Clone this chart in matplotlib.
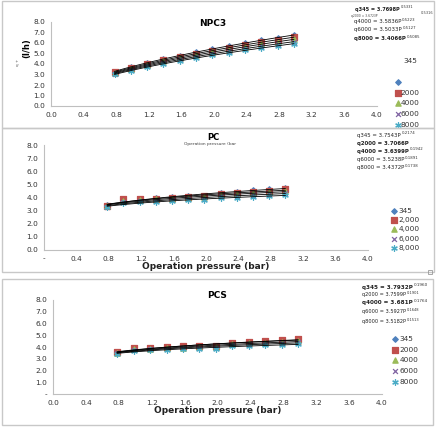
import matplotlib
matplotlib.use("Agg")
import matplotlib.pyplot as plt
from matplotlib.patches import Rectangle
import numpy as np

W, H = 436, 429

# operation pressure (bar)
pressure = [0.78, 0.98, 1.18, 1.38, 1.58, 1.78, 1.98, 2.18, 2.38, 2.58, 2.78, 2.98]

# flux (l/h)
npc3_345 = [3.28, 3.75, 4.10, 4.50, 4.80, 5.15, 5.45, 5.70, 6.00, 6.25, 6.52, 6.75]
npc3_2000 = [3.20, 3.65, 4.02, 4.35, 4.70, 4.98, 5.28, 5.55, 5.82, 6.05, 6.32, 6.55]
npc3_4000 = [3.15, 3.55, 3.90, 4.25, 4.55, 4.85, 5.12, 5.38, 5.65, 5.88, 6.12, 6.35]
npc3_6000 = [3.08, 3.45, 3.82, 4.12, 4.43, 4.70, 4.98, 5.22, 5.45, 5.70, 5.92, 6.12]
npc3_8000 = [3.00, 3.38, 3.70, 4.02, 4.30, 4.58, 4.82, 5.05, 5.30, 5.52, 5.72, 5.95]

pc_345 = [3.40, 3.75, 3.85, 3.95, 4.05, 4.10, 4.15, 4.35, 4.45, 4.55, 4.65, 4.75]
pc_2000 = [3.38, 3.85, 3.85, 3.90, 3.95, 4.02, 4.08, 4.30, 4.35, 4.45, 4.52, 4.62]
pc_4000 = [3.35, 3.70, 3.78, 3.85, 3.92, 3.98, 4.02, 4.18, 4.25, 4.33, 4.40, 4.48]
pc_6000 = [3.30, 3.62, 3.70, 3.75, 3.82, 3.88, 3.92, 4.08, 4.12, 4.20, 4.26, 4.33]
pc_8000 = [3.25, 3.55, 3.62, 3.68, 3.74, 3.78, 3.82, 3.96, 4.00, 4.06, 4.12, 4.18]

pcs_345 = [3.52, 3.85, 3.90, 3.98, 4.05, 4.08, 4.12, 4.35, 4.45, 4.52, 4.60, 4.68]
pcs_2000 = [3.55, 3.90, 3.92, 3.98, 4.05, 4.05, 4.10, 4.35, 4.45, 4.50, 4.58, 4.65]
pcs_4000 = [3.50, 3.80, 3.85, 3.90, 3.95, 3.98, 4.02, 4.25, 4.32, 4.38, 4.45, 4.52]
pcs_6000 = [3.45, 3.75, 3.80, 3.85, 3.88, 3.90, 3.95, 4.15, 4.22, 4.28, 4.32, 4.40]
pcs_8000 = [3.40, 3.70, 3.72, 3.78, 3.80, 3.82, 3.85, 4.05, 4.10, 4.15, 4.20, 4.28]

x_ticks = [0.0, 0.4, 0.8, 1.2, 1.6, 2.0, 2.4, 2.8, 3.2, 3.6, 4.0]
y_ticks = [0, 1, 2, 3, 4, 5, 6, 7, 8]

# trendline equations shown on the chart: (base, exponent)
eq_npc3 = [("q345 = 3.7698P", "0.5331"), ("q4000 = 3.5836P", "0.5223"),
           ("q6000 = 3.5033P", "0.5127"), ("q8000 = 3.4066P", "0.5085")]
eq_pc = [("q345 = 3.7543P", "0.2174"), ("q2000 = 3.7066P", ""), ("q4000 = 3.6399P", "0.1942"),
         ("q6000 = 3.5238P", "0.1891"), ("q8000 = 3.4372P", "0.1738")]
eq_pcs = [("q345 = 3.7932P", "0.1960"), ("q2000 = 3.7599P", "0.1901"), ("q4000 = 3.681P", "0.1764"),
          ("q6000 = 3.5927P", "0.1648"), ("q8000 = 3.5182P", "0.1513")]

colors = ['#4F81BD', '#C0504D', '#9BBB59', '#8064A2', '#4BACC6']
markers = ['D', 's', '^', 'x', (6, 2, 0)]
msizes = [2.8, 4.0, 3.8, 3.5, 4.0]


def fx(x):
    return x / W


def fy(y):
    return 1 - y / H


def eq_text(ax, x, y, eq, size, bold=False):
    base, ex = eq
    t = fig.text(fx(x), fy(y), base, fontsize=size, fontweight='bold' if bold else 'normal',
                 va='center', color='#222222')
    if ex:
        ax.annotate(ex, xy=(1.0, 0.85), xycoords=t, xytext=(0.4, 0), textcoords='offset points',
                    fontsize=size * 0.72, va='center', ha='left', color='#333333',
                    annotation_clip=False)
    return t


def panel(rect, series, xlabels, ylabels, xlabel):
    l, t, r, b = rect
    ax = fig.add_axes([fx(l), fy(b), fx(r - l), (b - t) / H])
    handles = []
    for i, ys in enumerate(series):
        h = ax.scatter(pressure, ys, marker=markers[i], s=msizes[i] ** 2,
                       color=colors[i], linewidths=0.9, zorder=3)
        handles.append(h)
    # power trendlines (fitted like Excel)
    xs = np.linspace(pressure[0], pressure[-1], 50)
    for ys in series:
        k, c = np.polyfit(np.log(pressure), np.log(ys), 1)
        ax.plot(xs, np.exp(c) * xs ** k, color='black', lw=0.6, zorder=4)
    ax.set_xlim(0, 4.0)
    ax.set_ylim(0, 8.0)
    ax.set_xticks(x_ticks)
    ax.set_xticklabels(xlabels)
    ax.set_yticks(y_ticks)
    ax.set_yticklabels(ylabels)
    ax.tick_params(length=0, labelsize=5.3, colors='#333333', pad=4)
    for s in ['top', 'right']:
        ax.spines[s].set_visible(False)
    for s in ['left', 'bottom']:
        ax.spines[s].set_color('#bfbfbf')
        ax.spines[s].set_linewidth(0.8)
    if xlabel:
        ax.set_xlabel(xlabel, fontsize=6.5, fontweight='bold', color='#222222', labelpad=0)
    return ax, handles


fig = plt.figure(figsize=(W / 100, H / 100), dpi=100)

# panel frames
for (x0, y0, x1, y1) in [(2, 1, 434, 128), (2, 128, 434, 272), (2, 279, 433, 425)]:
    fig.add_artist(Rectangle((fx(x0), fy(y1)), fx(x1 - x0), (y1 - y0) / H,
                             transform=fig.transFigure, fill=False,
                             edgecolor='#c8c8c8', lw=1.0))
fig.add_artist(Rectangle((fx(428), fy(274)), fx(4), 4 / H, transform=fig.transFigure,
                         fill=False, edgecolor='#999999', lw=0.6))

lab1 = ['%.1f' % v for v in x_ticks]
laby = ['%.1f' % v for v in y_ticks]

# NPC3
ax1, h1 = panel((51, 22, 377, 106), [npc3_345, npc3_2000, npc3_4000, npc3_6000, npc3_8000],
                lab1, laby, None)
fig.text(fx(213), fy(23), 'NPC3', fontsize=6.5, fontweight='bold', ha='center', va='center')
fig.text(fx(27), fy(48), '(l/h)', fontsize=6, fontweight='bold', rotation=90, ha='center', va='center')
fig.text(fx(18), fy(62), 'q +', fontsize=3, rotation=90, ha='center', va='center', color='#555555')
eq_text(ax1, 355, 9, eq_npc3[0], 3.6, True)
fig.text(fx(421), fy(13.5), '0.5316', fontsize=2.6, va='center', color='#444444')
fig.text(fx(351), fy(15.5), 'q2000 = 3.6723P', fontsize=2.2, va='center', color='#444444')
eq_text(ax1, 354, 22, eq_npc3[1], 3.9)
eq_text(ax1, 354, 30, eq_npc3[2], 3.9)
eq_text(ax1, 354, 38.5, eq_npc3[3], 3.9, True)
fig.text(fx(403), fy(61), '345', fontsize=5.3, va='center', color='#333333')
ax1.legend(h1, ['', '2000', '4000', '6000', '8000'], loc='upper left',
           bbox_to_anchor=(fx(392), fy(75)), bbox_transform=fig.transFigure,
           frameon=False, fontsize=5.3, handlelength=0.6, handletextpad=0.1,
           labelspacing=0.62, borderpad=0, labelcolor='#333333')

# PC
labx2 = ['-'] + lab1[1:]
ax2, h2 = panel((44, 145, 368, 250), [pc_345, pc_2000, pc_4000, pc_6000, pc_8000],
                labx2, laby, 'Operation pressure (bar)')
fig.text(fx(213), fy(138), 'PC', fontsize=6, fontweight='bold', ha='center', va='center')
fig.text(fx(210), fy(144.5), 'Operation pressure (bar', fontsize=3.2, ha='center', va='center',
         color='#444444')
for i, (eq, yy) in enumerate(zip(eq_pc, [135, 143.5, 151, 159.5, 167.5])):
    eq_text(ax2, 357, yy, eq, 3.9, i in (1, 2))
ax2.legend(h2, ['345', '2,000', '4,000', '6,000', '8,000'], loc='upper left',
           bbox_to_anchor=(fx(388), fy(204)), bbox_transform=fig.transFigure,
           frameon=False, fontsize=5.3, handlelength=0.6, handletextpad=0.3,
           labelspacing=0.42, borderpad=0, labelcolor='#333333')

# PCS
laby3 = ['-'] + laby[1:]
ax3, h3 = panel((53, 300, 382, 394), [pcs_345, pcs_2000, pcs_4000, pcs_6000, pcs_8000],
                lab1, laby3, 'Operation pressure (bar)')
fig.text(fx(217), fy(296), 'PCS', fontsize=6.5, fontweight='bold', ha='center', va='center')
for i, (eq, yy) in enumerate(zip(eq_pcs, [287, 294.5, 302.5, 312, 322])):
    eq_text(ax3, 362, yy, eq, 4.1 if i in (0, 2) else 3.6, i in (0, 2))
ax3.legend(h3, ['345', '2000', '4000', '6000', '8000'], loc='upper left',
           bbox_to_anchor=(fx(389), fy(332)), bbox_transform=fig.transFigure,
           frameon=False, fontsize=5.3, handlelength=0.6, handletextpad=0.3,
           labelspacing=0.62, borderpad=0, labelcolor='#333333')

fig.savefig('out.png', dpi=100)
